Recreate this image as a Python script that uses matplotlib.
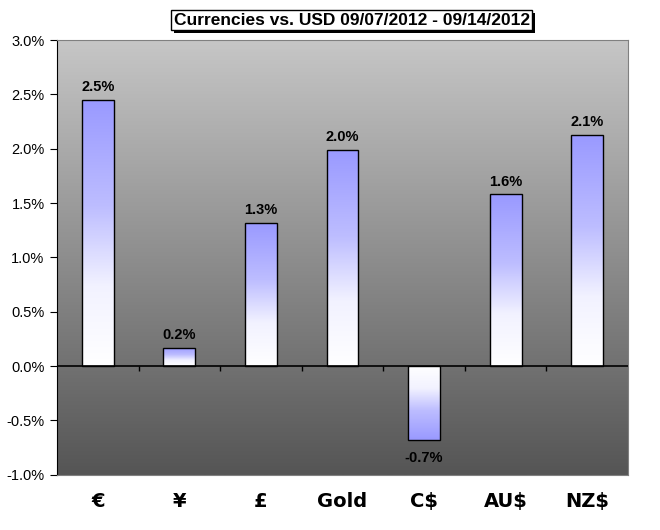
import numpy as np
import matplotlib.pyplot as plt
import matplotlib.transforms as mtransforms
from matplotlib.patches import Rectangle
from matplotlib.colors import LinearSegmentedColormap
from matplotlib.ticker import FuncFormatter

# weekly change vs USD, in percent
categories = ['€', '¥', '£', 'Gold', 'C$', 'AU$', 'NZ$']
changes = [2.45, 0.17, 1.32, 1.99, -0.68, 1.58, 2.13]
bar_labels = ['2.5%', '0.2%', '1.3%', '2.0%', '-0.7%', '1.6%', '2.1%']

title = 'Currencies vs. USD 09/07/2012 - 09/14/2012'

fig = plt.figure(figsize=(6.6, 5.3), dpi=100)
ax = fig.add_axes([0.0864, 0.1043, 0.8651, 0.8202])

ymin, ymax = -1.0, 3.0
n = len(categories)
ax.set_xlim(-0.5, n - 0.5)
ax.set_ylim(ymin, ymax)

# plot area background: light grey at top to dark grey at bottom
bg = LinearSegmentedColormap.from_list('bg', ['#555555', '#c6c6c6'])
grad = np.linspace(0, 1, 256).reshape(-1, 1)
ax.imshow(grad, cmap=bg, aspect='auto', origin='lower',
          extent=[-0.5, n - 0.5, ymin, ymax], zorder=0)

# bars with blue-to-white fill (blue holds through the upper part)
barcm = LinearSegmentedColormap.from_list(
    'bar', [(0.0, '#ffffff'), (0.3, '#f2f2ff'), (0.6, '#bdbdff'), (1.0, '#9999ff')])
width = 0.39
bars = ax.bar(range(n), changes, width=width, facecolor='none',
              edgecolor='black', linewidth=1.0, zorder=3)
for b, v in zip(bars, changes):
    x0 = b.get_x()
    if v >= 0:
        g = grad
        ext = [x0, x0 + width, 0, v]
    else:
        g = grad[::-1]
        ext = [x0, x0 + width, v, 0]
    im = ax.imshow(g, cmap=barcm, aspect='auto', origin='lower',
                   extent=ext, zorder=2)
    im.set_clip_path(b)

# value labels
for i, (v, lab) in enumerate(zip(changes, bar_labels)):
    if v >= 0:
        ax.annotate(lab, (i, v), xytext=(0, 4), textcoords='offset points',
                    ha='center', va='bottom', fontsize=10.5, fontweight='bold',
                    family='Liberation Sans', zorder=4)
    else:
        ax.annotate(lab, (i, v), xytext=(0, -8), textcoords='offset points',
                    ha='center', va='top', fontsize=10.5, fontweight='bold',
                    family='Liberation Sans', zorder=4)

# zero line with category boundary ticks
ax.axhline(0, color='black', linewidth=1.2, zorder=4)
ax.vlines(np.arange(0.5, n - 0.5, 1.0), -0.045, 0, color='black',
          linewidth=1.0, zorder=4)

# axes styling
ax.set_yticks(np.arange(-1.0, 3.01, 0.5))
ax.yaxis.set_major_formatter(FuncFormatter(lambda y, p: f'{y:.1f}%'))
ax.tick_params(axis='y', direction='out', length=5, labelsize=10.5, pad=4)
for t in ax.get_yticklabels():
    t.set_family('Liberation Sans')
ax.set_xticks([])
for s in ax.spines.values():
    s.set_color('#808080')
ax.spines['left'].set_color('black')

# category labels under the plot area
trans = mtransforms.blended_transform_factory(ax.transData, fig.transFigure)
for i, c in enumerate(categories):
    ax.text(i, 0.053, c, transform=trans, ha='center', va='center',
            fontsize=14, fontweight='bold', family='DejaVu Sans')

# title with drop shadow
t = fig.text(0.533, 0.962, title, ha='center', va='center', zorder=5,
             fontsize=12.5, fontweight='bold', family='Liberation Sans',
             bbox=dict(boxstyle='square,pad=0.15', facecolor='white', edgecolor='black'))
fig.canvas.draw()
bb = t.get_bbox_patch().get_window_extent().transformed(fig.transFigure.inverted())
dx, dy = 3 / 660, -3 / 530
fig.add_artist(Rectangle((bb.x0 + dx, bb.y0 + dy), bb.width, bb.height,
                         transform=fig.transFigure, facecolor='black',
                         edgecolor='none', zorder=4))

fig.savefig('out.png', dpi=100, facecolor='white')
